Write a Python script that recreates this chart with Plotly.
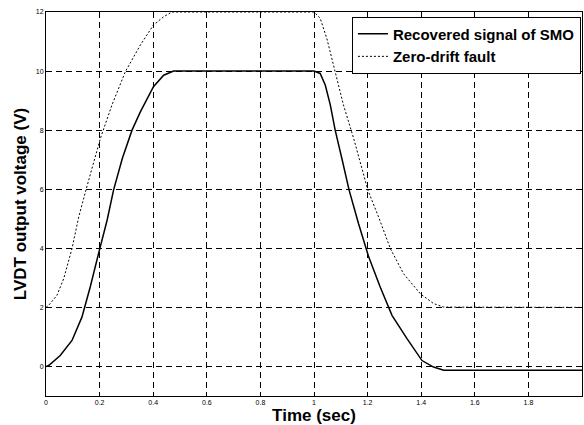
import plotly.graph_objects as go

# Recovered signal of SMO (solid line)
t_smo = [0, 0.01, 0.053, 0.097, 0.134, 0.165, 0.196, 0.228, 0.252, 0.285, 0.321, 0.352, 0.401,
         0.439, 0.476, 0.5, 1.0, 1.023, 1.042, 1.061, 1.079, 1.104, 1.131, 1.166, 1.204, 1.247,
         1.291, 1.347, 1.403, 1.446, 1.484, 2.0]
v_smo = [0, 0.03, 0.37, 0.88, 1.67, 2.69, 3.82, 4.95, 5.97, 7.05, 8.0, 8.62, 9.47,
         9.86, 10.0, 10.0, 10.0, 9.92, 9.53, 8.85, 8.0, 7.04, 5.97, 4.84, 3.71, 2.69,
         1.73, 0.94, 0.2, -0.02, -0.13, -0.13]

# Zero-drift fault (dashed line)
t_fault = [0, 0.01, 0.041, 0.066, 0.097, 0.122, 0.149, 0.203, 0.246, 0.296, 0.352, 0.401, 0.439,
           0.47, 1.0, 1.023, 1.048, 1.073, 1.11, 1.148, 1.201, 1.241, 1.285, 1.334, 1.397, 1.446,
           1.484, 2.0]
v_fault = [2.0, 2.07, 2.41, 2.97, 3.99, 5.06, 5.97, 7.72, 8.85, 9.98, 10.88, 11.56, 11.84,
           12.0, 12.0, 11.79, 11.1, 10.15, 8.85, 7.72, 5.97, 5.06, 3.99, 3.14, 2.46, 2.13,
           2.01, 2.0]

x_ticks = [0, 0.2, 0.4, 0.6, 0.8, 1, 1.2, 1.4, 1.6, 1.8, 2]
x_labels = ["0", "0.2", "0.4", "0.6", "0.8", "1", "1.2", "1.4", "1.6", "1.8", "2"]
y_ticks = [0, 2, 4, 6, 8, 10, 12]

font_family = "Arial, Liberation Sans, sans-serif"

fig = go.Figure()
fig.add_trace(go.Scatter(x=t_smo, y=v_smo, mode="lines", name="<b>Recovered signal of SMO</b>",
                         line=dict(color="black", width=1.5)))
fig.add_trace(go.Scatter(x=t_fault, y=v_fault, mode="lines", name="<b>Zero-drift fault</b>",
                         line=dict(color="black", width=1, dash="2px,2px")))

axis_common = dict(
    showline=True, linecolor="black", linewidth=1, mirror="ticks",
    ticks="inside", ticklen=4, tickcolor="black",
    showgrid=True, gridcolor="black", gridwidth=1, griddash="6px,4px",
    zeroline=False, tickfont=dict(size=7, color="black", family=font_family),
)

fig.update_xaxes(range=[0, 2], tickvals=x_ticks, ticktext=x_labels,
                 title=dict(text="<b>Time (sec)</b>", font=dict(size=17, color="black", family=font_family),
                            standoff=3),
                 **axis_common)
fig.update_yaxes(range=[-1, 12], tickvals=y_ticks,
                 title=dict(text="<b>LVDT output voltage (V)</b>", font=dict(size=17, color="black", family=font_family),
                            standoff=4),
                 **axis_common)

fig.update_layout(
    width=584, height=425,
    margin=dict(l=46, r=2, t=12, b=29),
    paper_bgcolor="white", plot_bgcolor="white",
    showlegend=True,
    legend=dict(x=0.998, y=0.988, xanchor="right", yanchor="top",
                bgcolor="white", bordercolor="black", borderwidth=1,
                font=dict(size=15, color="black", family=font_family),
                itemwidth=30, tracegroupgap=0),
    font=dict(family=font_family, color="black"),
)

# remove the default page margin so the figure sits at the window's corner
fig.write_html("out.html", config={"displayModeBar": False},
               post_script="document.body.style.margin='0';")
